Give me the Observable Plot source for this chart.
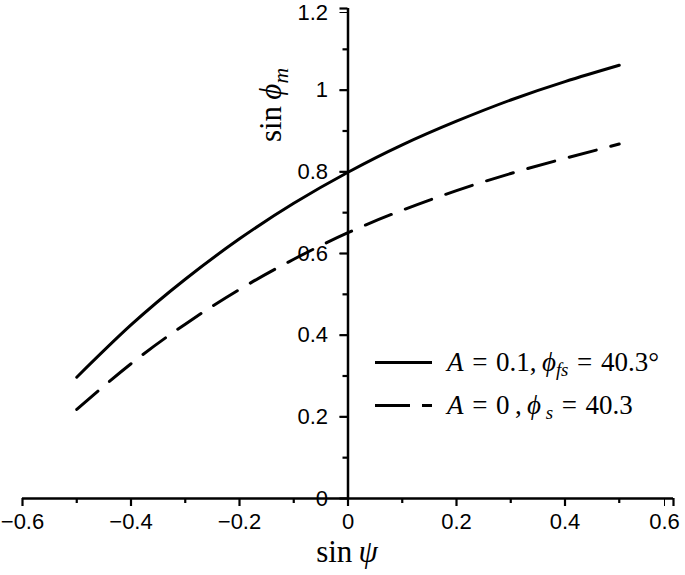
<!DOCTYPE html>
<html>
<head>
<meta charset="utf-8">
<script src="https://cdn.jsdelivr.net/npm/d3@7"></script>
<script src="https://cdn.jsdelivr.net/npm/@observablehq/plot@0.6"></script>
<style>
  html, body { margin: 0; padding: 0; background: #fff; }
  #wrap { position: relative; width: 685px; height: 575px; overflow: hidden; }
  .math { position: absolute; font-family: "Liberation Serif", "DejaVu Serif", serif; color: #000; white-space: nowrap; }
  .math i { font-style: italic; }
  .math sub { font-size: 0.7em; vertical-align: -0.3em; line-height: 0; }
  .eq { padding: 0 0.32em; }
  .leg { position: absolute; display: flex; align-items: center; }
</style>
</head>
<body>
<div id="wrap"></div>
<script>
// ---- data ----
const sinPsi = [-0.5, -0.4, -0.3, -0.2, -0.1, 0, 0.1, 0.2, 0.3, 0.4, 0.5];
const sinPhiM_A01 = [0.297, 0.425, 0.537, 0.636, 0.723, 0.799, 0.866, 0.924, 0.976, 1.021, 1.061];
const sinPhiM_A0  = [0.218, 0.330, 0.427, 0.512, 0.586, 0.651, 0.706, 0.754, 0.796, 0.833, 0.868];
const xDomain = [-0.6, 0.6];
const yDomain = [0, 1.2];
const xMajorTicks = [-0.6, -0.4, -0.2, 0, 0.2, 0.4, 0.6];
const xMinorTicks = [-0.5, -0.3, -0.1, 0.1, 0.3, 0.5];
const yMajorTicks = [0, 0.2, 0.4, 0.6, 0.8, 1, 1.2];
const yMinorTicks = [0.1, 0.3, 0.5, 0.7, 0.9, 1.1];

const solid = sinPsi.map((x, i) => ({x, y: sinPhiM_A01[i]}));
const dashed = sinPsi.map((x, i) => ({x, y: sinPhiM_A0[i]}));

const tickFont = {fontSize: 22, fontFamily: "Liberation Sans, Arial, sans-serif"};
const fmt = d3.format("");
const xEnd = xMajorTicks[xMajorTicks.length - 1];
const yEnd = yMajorTicks[yMajorTicks.length - 1];

const chart = Plot.plot({
  width: 685,
  height: 575,
  marginLeft: 22,
  marginRight: 12,
  marginTop: 8,
  marginBottom: 77,
  style: {background: "#fff", color: "#000", fontFamily: "Liberation Sans, Arial, sans-serif", fontSize: "22px", overflow: "visible"},
  x: {domain: xDomain},
  y: {domain: yDomain},
  marks: [
    Plot.ruleY([0], {x1: xDomain[0], x2: xDomain[1], strokeWidth: 2.5, stroke: "#000"}),
    Plot.ruleX([0], {y1: yDomain[0], y2: yDomain[1], strokeWidth: 2.5, stroke: "#000"}),
    // x axis: ticks + labels (last label nudged inward as in the original)
    Plot.axisX(xMajorTicks, {tickSize: 8, strokeWidth: 2.2, text: null, label: null}),
    Plot.axisX(xMajorTicks.filter(d => d !== xEnd), {tickSize: 8, tickPadding: 7, tick: null, tickFormat: fmt, ...tickFont, label: null}),
    Plot.axisX([xEnd], {tickSize: 8, tickPadding: 7, tick: null, dx: -9, tickFormat: fmt, ...tickFont, label: null}),
    Plot.axisX(xMinorTicks, {tickSize: 5, strokeWidth: 2.2, text: null, label: null}),
    // y axis at x = 0
    Plot.axisY(yMajorTicks, {x: 0, anchor: "left", tickSize: 8, strokeWidth: 2.2, text: null, label: null}),
    Plot.axisY(yMajorTicks.filter(d => d !== yEnd), {x: 0, anchor: "left", tickSize: 8, tickPadding: 12, tick: null, tickFormat: fmt, ...tickFont, label: null}),
    Plot.axisY([yEnd], {x: 0, anchor: "left", tickSize: 8, tickPadding: 12, tick: null, dy: 4, tickFormat: fmt, ...tickFont, label: null}),
    Plot.axisY(yMinorTicks, {x: 0, anchor: "left", tickSize: 5, strokeWidth: 2.2, text: null, label: null}),
    Plot.line(solid, {x: "x", y: "y", curve: "natural", stroke: "#000", strokeWidth: 3}),
    Plot.line(dashed, {x: "x", y: "y", curve: "natural", stroke: "#000", strokeWidth: 3, strokeDasharray: "28,15"})
  ]
});

const wrap = document.getElementById("wrap");
wrap.appendChild(chart);

function addHTML(html) { wrap.insertAdjacentHTML("beforeend", html); }

// axis titles
addHTML(`<div class="math" style="left:347px; top:552px; transform:translate(-50%,-50%); font-size:31px;">sin&thinsp;<i>ψ</i></div>`);
addHTML(`<div class="math" style="left:271px; top:105px; transform:translate(-50%,-50%) rotate(-90deg); font-size:31px;">sin&thinsp;<i>ϕ</i><sub><i>m</i></sub></div>`);

// legend
const legendItems = [
  {dash: null, html: `<i>A</i><span class="eq">=</span>0.1,&thinsp;<i>ϕ</i><sub><i>fs</i></sub><span class="eq">=</span>40.3°`},
  {dash: "35,12", html: `<i>A</i><span class="eq">=</span>0&thinsp;,&thinsp;<i>ϕ</i><sub>&nbsp;<i>s</i></sub><span class="eq">=</span>40.3`}
];
legendItems.forEach((item, i) => {
  const top = 362 + i * 43;
  addHTML(`<div class="leg" style="left:375px; top:${top}px; transform:translateY(-50%);">
    <svg width="57" height="6" style="overflow:visible"><line x1="0" y1="3" x2="57" y2="3" stroke="#000" stroke-width="3" ${item.dash ? `stroke-dasharray="${item.dash}"` : ""}/></svg>
    <span class="math" style="position:static; margin-left:15px; font-size:27px;">${item.html}</span>
  </div>`);
});
</script>
</body>
</html>
